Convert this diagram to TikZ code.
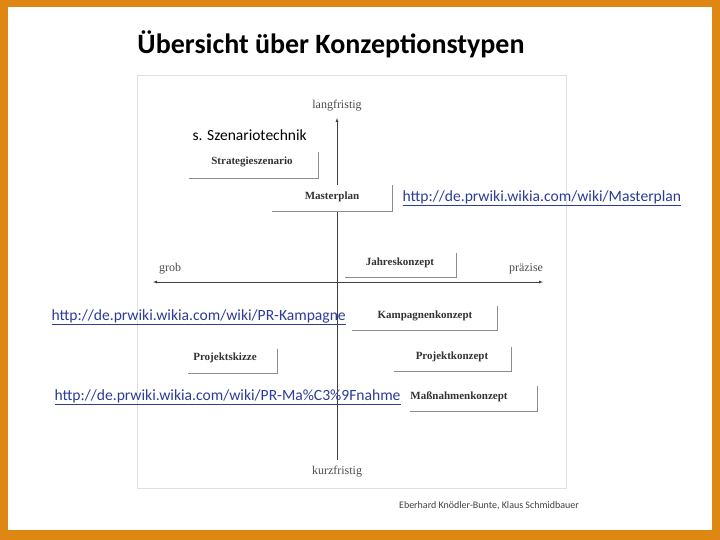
\documentclass[tikz,border=0pt]{standalone}
\usepackage{fontspec}
\setmainfont{Liberation Serif}
\newfontfamily\slidefont{Carlito}
\usetikzlibrary{positioning}
\definecolor{frameorange}{RGB}{222,135,18}
\definecolor{linkblue}{RGB}{45,60,150}
\begin{document}
\begin{tikzpicture}[x=1pt, y=-1pt,
  konzept/.style={inner sep=0pt, font=\fontsize{11}{13}\selectfont\bfseries, text=black!80},
  shade line/.style={draw=black!45, line width=0.8pt},
  axis label/.style={font=\fontsize{12}{14}\selectfont, text=black!70},
  weblink/.style={font=\slidefont\fontsize{15.6}{17}\selectfont, text=linkblue}]

\fill[frameorange] (0,0) rectangle (720,540);
\fill[white] (8,7) rectangle (712,530);
\draw[black!12] (137,75) rectangle (566,488);
\useasboundingbox (0,0) rectangle (720,540);

\node[font=\slidefont\bfseries\fontsize{28}{32}\selectfont] (title) at (331,44) {Übersicht über Konzeptionstypen};

% axes
\coordinate (top) at (337,118);
\coordinate (bottom) at (337,460);
\coordinate (left) at (153,282);
\coordinate (right) at (543,282);
\draw[black!75, -latex] (bottom) -- (top);
\draw[black!75, latex-latex] (left) -- (right);
\node[axis label, above=3pt of top] (lang) {langfristig};
\node[axis label, below=3pt of bottom] (kurz) {kurzfristig};
\node[axis label] (grob) at (170,269) {grob};
\node[axis label] (praez) at (526,269) {präzise};

% boxes
\foreach \l/\r/\t/\b in {189/318/152/178, 272/392/185/211,
    345/456/253/277, 352/497/306/330, 188/277/349/373,
    394/511/347/371, 410/537/386/411}
  {\fill[white] (\l,\t) rectangle (\r,\b);
   \draw[shade line] (\l,\b) -- (\r,\b) -- (\r,\t);}
\node[konzept] (strat) at (252,162) {Strategieszenario};
\node[konzept] (master) at (332,197) {Masterplan};
\node[konzept] (jahr) at (400,263) {Jahreskonzept};
\node[konzept] (kamp) at (425,316) {Kampagnenkonzept};
\node[konzept] (skizze) at (225,358) {Projektskizze};
\node[konzept] (projekt) at (452,357) {Projektkonzept};
\node[konzept] (mass) at (459,397) {Maßnahmenkonzept};

% texts
\node[font=\slidefont\fontsize{15.5}{17}\selectfont, anchor=west] (szen) at (189,135) {s. Szenariotechnik};
\node[weblink, anchor=west] (l1) at (399,198) {\underline{http://de.prwiki.wikia.com/wiki/Masterplan}};
\node[weblink, anchor=west] (l2) at (48,317) {\underline{http://de.prwiki.wikia.com/wiki/PR-Kampagne}};
\node[weblink, anchor=west] (l3) at (51,397) {\underline{http://de.prwiki.wikia.com/wiki/PR-Ma\%C3\%9Fnahme}};
\node[font=\slidefont\fontsize{10}{12}\selectfont, text=black!75] (autor) at (489,506) {Eberhard Knödler-Bunte, Klaus Schmidbauer};
\end{tikzpicture}
\end{document}
